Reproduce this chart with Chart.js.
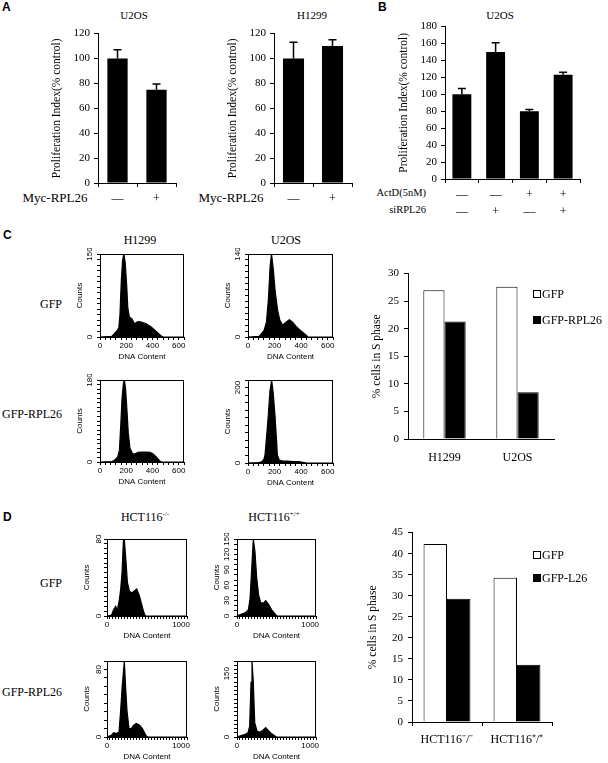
<!DOCTYPE html>
<html lang="en">
<head>
<meta charset="UTF-8" />
<title>RPL26 proliferation and S phase</title>
<script src="https://cdn.jsdelivr.net/npm/chart.js"></script>
<style>
  body { margin: 0; background: #fff; }
  .page {
    position: relative;
    width: 608px;
    height: 763px;
    overflow: hidden;
    font-family: "Liberation Serif", "Times New Roman", serif;
    color: #000;
  }
  .box { position: absolute; }
  .t {
    position: absolute;
    white-space: nowrap;
    line-height: 1;
    font-size: 12px;
    transform: translate(-50%, -50%);
  }
  .tr { transform: translate(-100%, -50%); font-size: 10.5px; }
  .letter {
    position: absolute;
    font-family: "Liberation Sans", Arial, sans-serif;
    font-weight: bold;
    font-size: 12px;
    line-height: 1;
  }
  sup { font-size: 7px; vertical-align: 5px; line-height: 0; }
  .legend { position: absolute; font-size: 12px; line-height: 1; }
  .legend-row { display: flex; align-items: center; white-space: nowrap; }
  .swatch {
    display: inline-block;
    width: 6px;
    height: 6px;
    border: 1px solid #000;
    margin-right: 1px;
  }
</style>
</head>
<body>
<div class="page">
  <!-- Panel A -->
  <div class="letter" style="left:2px;top:1px">A</div>
  <div class="t" style="left:134px;top:15px;font-size:11px">U2OS</div>
  <div class="t" style="left:312px;top:15px;font-size:11px">H1299</div>
  <div class="t" style="left:55px;top:197px;font-size:13px">Myc-RPL26</div>
  <div class="t" style="left:231px;top:197px;font-size:13px">Myc-RPL26</div>
  <div class="box" style="left:50px;top:23px;width:130px;height:182px"><canvas id="aU2os"></canvas></div>
  <div class="box" style="left:226px;top:23px;width:130px;height:182px"><canvas id="aH1299"></canvas></div>

  <!-- Panel B -->
  <div class="letter" style="left:378px;top:1px">B</div>
  <div class="t" style="left:500px;top:15px;font-size:11px">U2OS</div>
  <div class="t tr" style="left:426px;top:193px">ActD(5nM)</div>
  <div class="t tr" style="left:426px;top:210px">siRPL26</div>
  <div class="box" style="left:397px;top:16px;width:187px;height:205px"><canvas id="bU2os"></canvas></div>

  <!-- Panel C -->
  <div class="letter" style="left:3px;top:229px">C</div>
  <div class="t" style="left:140px;top:240px">H1299</div>
  <div class="t" style="left:286px;top:240px">U2OS</div>
  <div class="t" style="left:51px;top:304px">GFP</div>
  <div class="t" style="left:32px;top:414px">GFP-RPL26</div>
  <div class="box" style="left:75px;top:248px;width:115px;height:114px"><canvas id="cH1299Gfp"></canvas></div>
  <div class="box" style="left:223px;top:248px;width:116px;height:114px"><canvas id="cU2osGfp"></canvas></div>
  <div class="box" style="left:75px;top:374px;width:115px;height:113px"><canvas id="cH1299Rpl26"></canvas></div>
  <div class="box" style="left:223px;top:374px;width:116px;height:114px"><canvas id="cU2osRpl26"></canvas></div>
  <div class="box" style="left:370px;top:262px;width:188px;height:203px"><canvas id="cSphase"></canvas></div>
  <div class="legend" id="cLegend" style="left:533px;top:281px"></div>

  <!-- Panel D -->
  <div class="letter" style="left:3px;top:511px">D</div>
  <div class="t" style="left:145px;top:517px">HCT116<sup>-/-</sup></div>
  <div class="t" style="left:274px;top:517px">HCT116<sup>+/+</sup></div>
  <div class="t" style="left:51px;top:583px">GFP</div>
  <div class="t" style="left:32px;top:692px">GFP-RPL26</div>
  <div class="box" style="left:82px;top:533px;width:111px;height:108px"><canvas id="dKoGfp"></canvas></div>
  <div class="box" style="left:212px;top:533px;width:110px;height:108px"><canvas id="dWtGfp"></canvas></div>
  <div class="box" style="left:82px;top:655px;width:111px;height:107px"><canvas id="dKoRpl26"></canvas></div>
  <div class="box" style="left:212px;top:655px;width:110px;height:107px"><canvas id="dWtRpl26"></canvas></div>
  <div class="box" style="left:366px;top:521px;width:190px;height:227px"><canvas id="dSphase"></canvas></div>
  <div class="legend" id="dLegend" style="left:533px;top:543px"></div>
</div>

<script>
  // ---- data ----

  // A: proliferation index, Myc-RPL26 -/+
  const mycLabels = ["\u2014", "+"];
  const u2osProlif = [100, 75];
  const u2osProlifErr = [7, 4.5];
  const h1299Prolif = [100, 110];
  const h1299ProlifErr = [13, 5];

  // B: ActD / siRPL26 combinations (first line ActD, second siRPL26)
  const actdLabels = [
    ["\u2014", "\u2014"],
    ["\u2014", "+"],
    ["+", "\u2014"],
    ["+", "+"],
  ];
  const u2osActd = [100, 150, 80, 123];
  const u2osActdErr = [7, 11, 2, 3];

  // C: % cells in S phase
  const cCells = ["H1299", "U2OS"];
  const cGfp = [27.0, 27.6];
  const cGfpRpl26 = [21.3, 8.5];

  // D: % cells in S phase
  const dCells = ["HCT116\u207B/\u207B", "HCT116\u207A/\u207A"];
  const dGfp = [42.3, 34.3];
  const dGfpL26 = [29.3, 13.6];

  // DNA content histograms (channel, counts)
  const cH1299GfpDna = [0, 90, 100, 122, 143, 152, 162, 172, 181, 192, 203, 212, 224, 242, 263, 288, 314, 352, 390, 428, 467, 480, 640];
  const cH1299GfpCounts = [0, 1, 4, 9, 16, 40, 100, 138, 150, 135, 95, 52, 36, 33, 24, 28, 27, 24, 18, 10, 2, 0, 0];

  const cU2osGfpDna = [0, 83, 96, 121, 139, 154, 167, 177, 190, 205, 223, 240, 261, 286, 311, 336, 362, 400, 438, 450, 640];
  const cU2osGfpCounts = [0, 1, 4, 11, 25, 65, 121, 140, 116, 76, 45, 28, 20, 25, 29, 25, 18, 10, 3, 0, 0];

  const cH1299Rpl26Dna = [0, 90, 110, 135, 148, 158, 168, 178, 186, 195, 205, 215, 228, 245, 260, 290, 320, 350, 380, 403, 428, 454, 467, 640];
  const cH1299Rpl26Counts = [0, 1, 4, 11, 26, 80, 140, 172, 180, 160, 115, 65, 31, 20, 17, 21, 22, 22, 21, 18, 11, 3, 0, 0];

  const cU2osRpl26Dna = [0, 80, 103, 120, 128, 140, 153, 165, 178, 190, 203, 215, 221, 235, 260, 300, 340, 380, 415, 440, 640];
  const cU2osRpl26Counts = [0, 1, 3, 10, 21, 70, 127, 190, 220, 185, 127, 60, 21, 8, 5, 5, 4, 4, 2, 0, 0];

  const dKoGfpDna = [0, 63, 86, 117, 140, 167, 185, 203, 221, 234, 257, 275, 302, 333, 369, 401, 437, 468, 500, 518, 1080];
  const dKoGfpCounts = [0, 1, 6, 10, 6, 17, 28, 45, 78, 80, 56, 35, 26, 24, 26, 28, 21, 12, 3, 0, 0];

  const dWtGfpDna = [0, 64, 109, 155, 178, 200, 223, 246, 269, 296, 324, 360, 392, 429, 474, 520, 543, 1080];
  const dWtGfpCounts = [0, 4, 6, 12, 33, 89, 150, 125, 75, 40, 26, 25, 30, 23, 12, 4, 0, 0];

  const dKoRpl26Dna = [0, 58, 90, 126, 162, 184, 207, 234, 252, 270, 297, 328, 360, 396, 441, 477, 508, 531, 553, 1080];
  const dKoRpl26Counts = [0, 2, 5, 4, 6, 31, 62, 90, 58, 31, 10, 10, 14, 16, 14, 10, 5, 1, 0, 0];

  const dWtRpl26Dna = [0, 36, 105, 150, 173, 192, 205, 223, 242, 274, 310, 356, 392, 424, 470, 515, 538, 1080];
  const dWtRpl26Counts = [0, 2, 6, 10, 26, 130, 180, 130, 34, 14, 11, 16, 22, 16, 8, 3, 0, 0];

  // ---- helpers ----
  const SERIF = '"Liberation Serif", "Times New Roman", serif';
  const SANS = '"Liberation Sans", Arial, sans-serif';
  const getEl = (id) => document.getElementById(id);

  Chart.defaults.font.family = SERIF;
  Chart.defaults.color = "#000";
  Chart.defaults.animation = false;
  Chart.defaults.maintainAspectRatio = false;
  Chart.defaults.plugins.legend.display = false;
  Chart.defaults.plugins.tooltip.enabled = false;

  // upper error bar with a cap, drawn through the y scale
  const errorBars = {
    id: "errorBars",
    afterDatasetsDraw(chart) {
      const { ctx } = chart;
      const yScale = chart.scales.y;
      chart.data.datasets.forEach((ds, i) => {
        if (!ds.errors) return;
        chart.getDatasetMeta(i).data.forEach((bar, j) => {
          const top = yScale.getPixelForValue(ds.data[j] + ds.errors[j]);
          ctx.save();
          ctx.strokeStyle = "#000";
          ctx.lineWidth = 1.5;
          ctx.beginPath();
          ctx.moveTo(bar.x, bar.y);
          ctx.lineTo(bar.x, top);
          ctx.moveTo(bar.x - 4, top);
          ctx.lineTo(bar.x + 4, top);
          ctx.stroke();
          ctx.restore();
        });
      });
    },
  };

  // closed box round the plot area of the histograms
  const frame = {
    id: "frame",
    afterDraw(chart) {
      const { ctx, chartArea: a } = chart;
      ctx.save();
      ctx.strokeStyle = "#000";
      ctx.lineWidth = 1;
      ctx.strokeRect(a.left + 0.5, a.top + 0.5, a.width - 1, a.height);
      ctx.restore();
    },
  };

  const blackGrid = { drawOnChartArea: false, tickLength: 4, color: "#000" };
  const blackBorder = { color: "#000", width: 1 };

  function prolifChart(id, labels, values, errors, o) {
    return new Chart(getEl(id), {
      type: "bar",
      data: {
        labels,
        datasets: [
          {
            data: values,
            errors,
            backgroundColor: "#000",
            borderWidth: 0,
            barPercentage: o.bar,
            categoryPercentage: 1,
          },
        ],
      },
      options: {
        layout: { padding: { top: 8, right: 4 } },
        scales: {
          x: {
            grid: { ...blackGrid, offset: true },
            border: blackBorder,
            ticks: {
              font: { size: 12, lineHeight: "17px" },
              padding: 3,
              maxRotation: 0,
            },
            afterFit: (s) => { s.height = o.xHeight; },
          },
          y: {
            min: 0,
            max: o.max,
            ticks: { stepSize: o.step, font: { size: 11 }, padding: 4 },
            grid: blackGrid,
            border: blackBorder,
            title: {
              display: true,
              text: "Proliferation Index(% control)",
              font: { size: 11.5 },
              padding: 0,
            },
            afterFit: (s) => { s.width = 48; },
          },
        },
      },
      plugins: [errorBars],
    });
  }

  function sPhaseChart(id, labels, series, o) {
    return new Chart(getEl(id), {
      type: "bar",
      data: {
        labels,
        datasets: series.map((s) => ({
          label: s.label,
          data: s.data,
          backgroundColor: s.fill,
          borderColor: "#000",
          borderWidth: 1,
          borderSkipped: "bottom",
          barPercentage: 1,
          categoryPercentage: o.cat,
        })),
      },
      options: {
        layout: { padding: { top: 8, right: 4 } },
        scales: {
          x: {
            grid: { ...blackGrid, offset: true, drawTicks: o.xTicks, tickLength: o.xTicks ? 4 : 0 },
            border: blackBorder,
            ticks: { font: { size: 12 }, padding: o.xPad, maxRotation: 0 },
            afterFit: (s) => { s.height = 26; },
          },
          y: {
            min: 0,
            max: o.max,
            ticks: { stepSize: 5, font: { size: 11 }, padding: 5 },
            grid: blackGrid,
            border: blackBorder,
            title: {
              display: true,
              text: "% cells in S phase",
              font: { size: 11.5 },
              padding: 0,
            },
            afterFit: (s) => { s.width = o.yWidth; },
          },
        },
      },
    });
  }

  function htmlLegend(chart, boxId, rowHeight) {
    const box = getEl(boxId);
    chart.data.datasets.forEach((ds) => {
      const row = document.createElement("div");
      row.className = "legend-row";
      row.style.height = rowHeight + "px";
      const sw = document.createElement("span");
      sw.className = "swatch";
      sw.style.background = ds.backgroundColor;
      row.append(sw, ds.label);
      box.appendChild(row);
    });
  }

  function histogram(id, dna, counts, o) {
    const tickFont = { family: SANS, size: 8 };
    return new Chart(getEl(id), {
      type: "line",
      data: {
        datasets: [
          {
            data: dna.map((x, i) => ({ x, y: counts[i] })),
            fill: "origin",
            backgroundColor: "#000",
            borderColor: "#000",
            borderWidth: 1.2,
            pointRadius: 0,
            tension: 0,
          },
        ],
      },
      options: {
        layout: { padding: { top: 6, right: 6 } },
        scales: {
          x: {
            type: "linear",
            min: 0,
            max: o.xMax,
            ticks: {
              stepSize: 40,
              autoSkip: false,
              maxRotation: 0,
              font: tickFont,
              padding: 1,
              callback: (v) => (o.xLabels.includes(v) ? v : ""),
            },
            grid: { drawOnChartArea: false, tickLength: 3, color: "#000" },
            border: blackBorder,
            title: { display: true, text: "DNA Content", font: tickFont, padding: 0 },
            afterFit: (s) => { s.height = 25; },
          },
          y: {
            min: 0,
            max: o.yMax,
            ticks: {
              stepSize: o.yStep,
              autoSkip: false,
              minRotation: 90,
              maxRotation: 90,
              crossAlign: "center",
              font: tickFont,
              padding: 1,
              callback: (v) => (o.yLabels.includes(v) ? v : ""),
            },
            grid: { drawOnChartArea: false, tickLength: 3, color: "#000" },
            border: blackBorder,
            title: { display: true, text: "Counts", font: tickFont, padding: 0 },
            afterFit: (s) => { s.width = 25; },
          },
        },
      },
      plugins: [frame],
    });
  }

  // ---- build ----
  prolifChart("aU2os", mycLabels, u2osProlif, u2osProlifErr, { bar: 0.52, max: 120, step: 20, xHeight: 22 });
  prolifChart("aH1299", mycLabels, h1299Prolif, h1299ProlifErr, { bar: 0.54, max: 120, step: 20, xHeight: 22 });
  prolifChart("bU2os", actdLabels, u2osActd, u2osActdErr, { bar: 0.56, max: 180, step: 20, xHeight: 42 });

  const cChart = sPhaseChart(
    "cSphase",
    cCells,
    [
      { label: "GFP", data: cGfp, fill: "#fff" },
      { label: "GFP-RPL26", data: cGfpRpl26, fill: "#000" },
    ],
    { cat: 0.58, max: 30, yWidth: 38, xTicks: false, xPad: 12 }
  );
  htmlLegend(cChart, "cLegend", 26);

  const dChart = sPhaseChart(
    "dSphase",
    dCells,
    [
      { label: "GFP", data: dGfp, fill: "#fff" },
      { label: "GFP-L26", data: dGfpL26, fill: "#000" },
    ],
    { cat: 0.67, max: 45, yWidth: 46, xTicks: true, xPad: 7 }
  );
  htmlLegend(dChart, "dLegend", 23);

  const cAxis = { xMax: 640, xLabels: [0, 200, 400, 600] };
  histogram("cH1299Gfp", cH1299GfpDna, cH1299GfpCounts, { ...cAxis, yMax: 150, yStep: 10, yLabels: [0, 150] });
  histogram("cU2osGfp", cU2osGfpDna, cU2osGfpCounts, { ...cAxis, yMax: 140, yStep: 10, yLabels: [0, 140] });
  histogram("cH1299Rpl26", cH1299Rpl26Dna, cH1299Rpl26Counts, { ...cAxis, yMax: 180, yStep: 10, yLabels: [0, 180] });
  histogram("cU2osRpl26", cU2osRpl26Dna, cU2osRpl26Counts, { ...cAxis, yMax: 220, yStep: 20, yLabels: [0, 200] });

  const dAxis = { xMax: 1080, xLabels: [0, 1000] };
  histogram("dKoGfp", dKoGfpDna, dKoGfpCounts, { ...dAxis, yMax: 80, yStep: 5, yLabels: [0, 80] });
  histogram("dWtGfp", dWtGfpDna, dWtGfpCounts, { ...dAxis, yMax: 150, yStep: 10, yLabels: [0, 30, 60, 90, 120, 150] });
  histogram("dKoRpl26", dKoRpl26Dna, dKoRpl26Counts, { ...dAxis, yMax: 90, yStep: 10, yLabels: [0, 80] });
  histogram("dWtRpl26", dWtRpl26Dna, dWtRpl26Counts, { ...dAxis, yMax: 180, yStep: 10, yLabels: [0, 150] });
</script>
</body>
</html>
